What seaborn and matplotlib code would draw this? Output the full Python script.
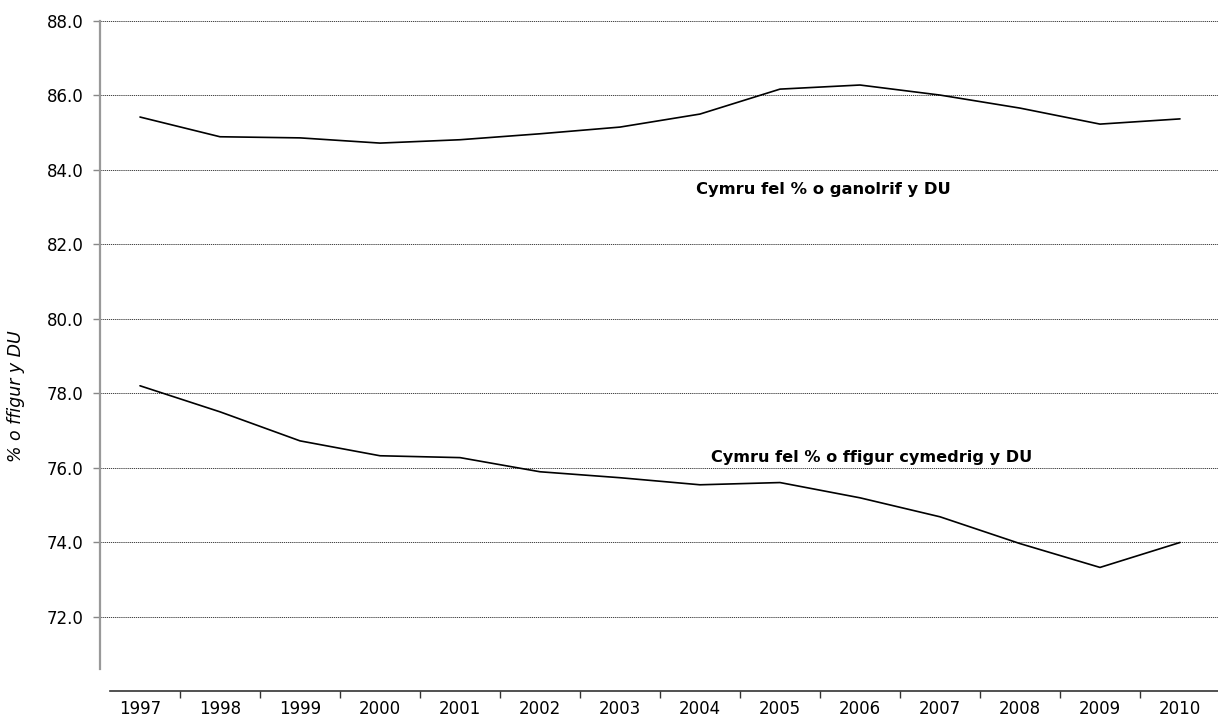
import pandas as pd
import seaborn as sns
import matplotlib.pyplot as plt
from matplotlib.ticker import FixedLocator

# data
years = [1997, 1998, 1999, 2000, 2001, 2002, 2003, 2004, 2005, 2006, 2007, 2008, 2009, 2010]
median_pct = [85.42, 84.89, 84.86, 84.72, 84.81, 84.97, 85.15, 85.50, 86.17, 86.28, 86.01, 85.66, 85.23, 85.37]
mean_pct = [78.20, 77.50, 76.72, 76.32, 76.27, 75.89, 75.73, 75.54, 75.60, 75.19, 74.68, 73.96, 73.32, 73.99]
label_median = "Cymru fel % o ganolrif y DU"
label_mean = "Cymru fel % o ffigur cymedrig y DU"

idx = list(range(len(years)))
df = pd.DataFrame({
    "pos": idx * 2,
    "value": median_pct + mean_pct,
    "series": ["median"] * len(years) + ["mean"] * len(years),
})

sns.set_style("white")
plt.rcParams['font.family'] = ['DejaVu Sans']
plt.rcParams['text.color'] = 'black'
plt.rcParams['axes.labelcolor'] = 'black'
plt.rcParams['xtick.labelcolor'] = 'black'
plt.rcParams['ytick.labelcolor'] = 'black'

fig = plt.figure(figsize=(12.18, 7.19), dpi=100)
ax = fig.add_axes([100 / 1218, 1 - 691 / 719, 1118 / 1218, 670 / 719])

sns.lineplot(data=df, x="pos", y="value", units="series", estimator=None,
             color="black", linewidth=1.2, ax=ax, legend=False)

ax.set_ylim(70, 88)
ax.set_xlim(-0.5, 13.475)
ax.yaxis.set_major_locator(FixedLocator([72, 74, 76, 78, 80, 82, 84, 86, 88]))
ax.yaxis.set_major_formatter(plt.FuncFormatter(lambda v, p: f"{v:.1f}"))
ax.grid(axis="y", color="#222222", linestyle=(0, (1.5, 1.0)), linewidth=0.6)
ax.set_axisbelow(True)

ax.set_xticks(idx)
ax.set_xticklabels([str(y) for y in years])
ax.xaxis.set_minor_locator(FixedLocator([i + 0.5 for i in idx]))
ax.tick_params(axis="x", which="major", bottom=True, length=0, pad=6.5, labelsize=12)
ax.tick_params(axis="x", which="minor", bottom=True, length=5, width=1, color="#333333", direction="out")
ax.tick_params(axis="y", which="major", left=True, length=5, width=1, color="#888888", direction="out",
               pad=7, labelsize=12)

for s in ["top", "right"]:
    ax.spines[s].set_visible(False)
ax.spines["left"].set_color("#999999")
ax.spines["left"].set_linewidth(1.6)
ax.spines["left"].set_bounds(70.58, 88)
ax.spines["bottom"].set_color("#333333")
ax.spines["bottom"].set_linewidth(1.2)
ax.spines["bottom"].set_bounds(-0.375, 13.475)

ax.set_xlabel("")
ax.set_ylabel("% o ffigur y DU", style="italic", fontsize=12.5)
ax.yaxis.set_label_coords(-0.067, 0.44)

ax.text(8.54, 83.46, label_median, fontsize=11.8, fontweight="bold", ha="center", va="center")
ax.text(9.15, 76.27, label_mean, fontsize=11.6, fontweight="bold", ha="center", va="center")

plt.savefig("out.png", dpi=100)
